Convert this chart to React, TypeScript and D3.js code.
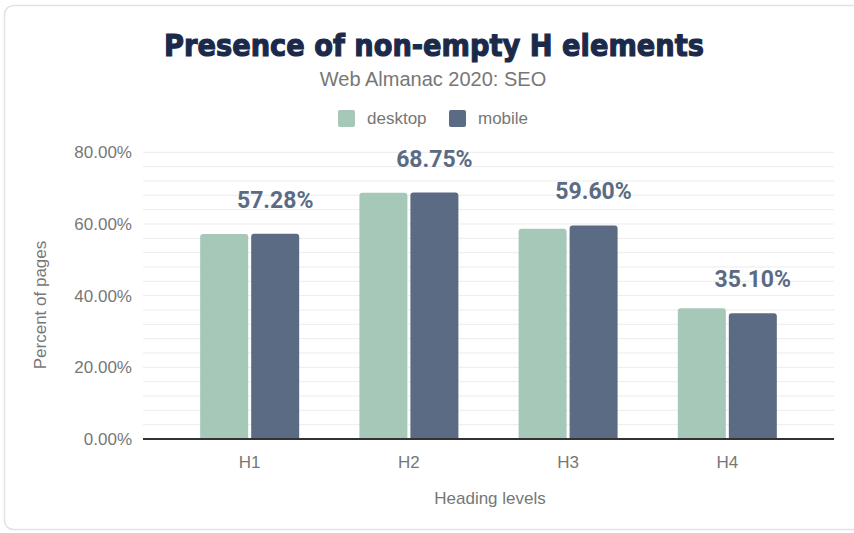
import React from "react";
import * as d3 from "d3";

const categories = ["H1", "H2", "H3", "H4"];
const desktopValues = [57.2, 68.7, 58.7, 36.5];
const mobileValues = [57.28, 68.75, 59.6, 35.1];
const seriesNames = ["desktop", "mobile"];
const yTicks = [0, 20, 40, 60, 80];
const minorTicks = d3.range(0, 81, 4);

const W = 854;
const H = 533;
const COLORS = ["#a6c8b8", "#5c6b84"];

export default function App() {
  const x = d3.scaleBand<string>().domain(categories).range([143, 834]).paddingInner(0).paddingOuter(0.17);
  const y = d3.scaleLinear().domain([0, 80]).range([439, 152.3]);
  const barW = 48;
  const gap = 3;
  const series = [desktopValues, mobileValues];
  const font = "'Liberation Sans', Arial, sans-serif";

  const roundedTop = (x0: number, y0: number, w: number, h: number, r: number) => {
    const p = d3.path();
    p.moveTo(x0, y0 + h);
    p.lineTo(x0, y0 + r);
    p.quadraticCurveTo(x0, y0, x0 + r, y0);
    p.lineTo(x0 + w - r, y0);
    p.quadraticCurveTo(x0 + w, y0, x0 + w, y0 + r);
    p.lineTo(x0 + w, y0 + h);
    p.closePath();
    return p.toString();
  };

  return (
    <svg width={W} height={H} style={{ position: "absolute", left: 0, top: 0, background: "#fff" }}>
      <rect x={4.5} y={5.5} width={900} height={524} rx={9} fill="#fff" stroke="#e2e2e2" strokeWidth={1.5} />
      <text x={434} y={56} textAnchor="middle" fontFamily="'DejaVu Sans', sans-serif" fontWeight="bold" fontSize={31} fill="#1b2a4a" stroke="#1b2a4a" strokeWidth={1.2} textLength={540} lengthAdjust="spacingAndGlyphs">
        Presence of non-empty H elements
      </text>
      <text x={433} y={86} textAnchor="middle" fontFamily={font} fontSize={20} fill="#777">
        Web Almanac 2020: SEO
      </text>
      {seriesNames.map((n, i) => {
        const lx = [338, 449][i];
        return (
          <g key={n}>
            <rect x={lx} y={110} width={17} height={17} rx={2} fill={COLORS[i]} />
            <text x={lx + 29} y={124} fontFamily={font} fontSize={17} fill="#777">{n}</text>
          </g>
        );
      })}
      {minorTicks.map((t) => (
        <line key={t} x1={143} x2={834} y1={y(t)} y2={y(t)} stroke="#ececec" strokeWidth={1} />
      ))}
      {yTicks.map((t) => (
        <text key={t} x={132} y={y(t) + 6} textAnchor="end" fontFamily={font} fontSize={17} fill="#777">
          {d3.format(".2f")(t) + "%"}
        </text>
      ))}
      <text transform={`translate(46,305) rotate(-90)`} textAnchor="middle" fontFamily={font} fontSize={17} fill="#777">
        Percent of pages
      </text>
      {categories.map((c, ci) => {
        const cx = (x(c) as number) + x.bandwidth() / 2;
        return (
          <g key={c}>
            {series.map((vals, si) => {
              const bx = cx - barW - gap / 2 + si * (barW + gap);
              const top = y(vals[ci]);
              return <path key={si} d={roundedTop(bx, top, barW, y(0) - top, 3)} fill={COLORS[si]} />;
            })}
            <text x={cx + gap / 2 + barW / 2} y={y(mobileValues[ci]) - 26} textAnchor="middle" fontFamily="Roboto, sans-serif" fontWeight="bold" fontSize={23} fill="#5c6b84">
              {d3.format(".2f")(mobileValues[ci]) + "%"}
            </text>
            <text x={cx} y={468} textAnchor="middle" fontFamily={font} fontSize={17} fill="#777">{c}</text>
          </g>
        );
      })}
      <line x1={143} x2={834} y1={y(0)} y2={y(0)} stroke="#333" strokeWidth={2} />
      <text x={490} y={504} textAnchor="middle" fontFamily={font} fontSize={17} fill="#777">
        Heading levels
      </text>
    </svg>
  );
}
